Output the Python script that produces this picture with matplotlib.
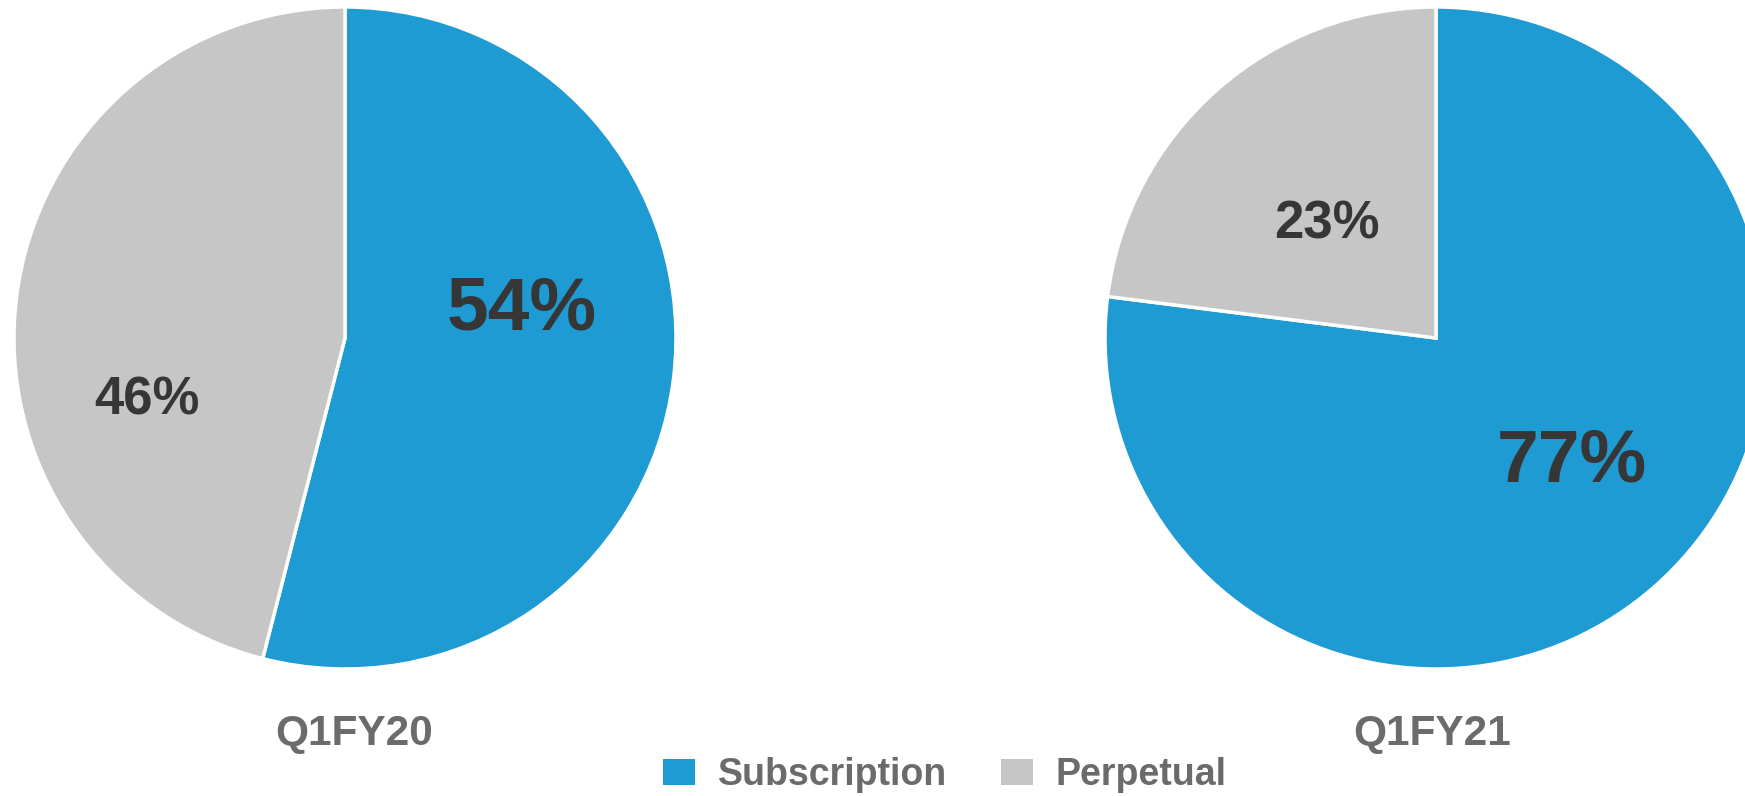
import matplotlib.pyplot as plt

# data
periods = ["Q1FY20", "Q1FY21"]
categories = ["Subscription", "Perpetual"]
shares = [[54, 46], [77, 23]]
colors = ["#1F9BD4", "#C6C6C6"]

# layout (image pixels, y measured from the top)
W, H = 1745, 796
centers = [(345, 338), (1436, 338)]
radius = 331
# label baseline offsets as fractions of the radius, and font sizes
label_pos = [[(0.535, 0.027), (-0.597, -0.230)],
             [(0.411, -0.435), (-0.329, 0.302)]]
label_size = [[54, 38], [54, 38]]
title_base = 745

plt.rcParams['font.family'] = ['Liberation Sans', 'DejaVu Sans']

fig = plt.figure(figsize=(W / 100, H / 100), dpi=100)
ax = fig.add_axes([0, 0, 1, 1])

wedges = None
for i, period in enumerate(periods):
    cx, cy = centers[i]
    w, _ = ax.pie(shares[i], colors=colors, startangle=90, counterclock=False,
                  center=(cx, H - cy), radius=radius,
                  wedgeprops=dict(edgecolor="white", linewidth=2.5))
    if wedges is None:
        wedges = w
    for j, v in enumerate(shares[i]):
        fx, fy = label_pos[i][j]
        ax.text(cx + fx * radius, H - cy + fy * radius, f"{v}%",
                ha="center", va="baseline", fontsize=label_size[i][j],
                fontweight="bold", color="#363636")
    ax.text(cx + (9 if i == 0 else -4), H - title_base, period, ha="center",
            va="baseline", fontsize=30.5, fontweight="bold", color="#6B6B6B")

ax.set_xlim(0, W)
ax.set_ylim(0, H)
ax.set_aspect("equal")
ax.axis("off")

leg = fig.legend(wedges, categories, loc="center", ncol=2,
                 bbox_to_anchor=(945 / W, 21 / H), frameon=False,
                 handlelength=0.85, handleheight=0.67, handletextpad=0.6,
                 columnspacing=1.45, borderpad=0,
                 prop=dict(size=27, weight="bold"))
for t in leg.get_texts():
    t.set_color("#6B6B6B")
for p in leg.get_patches():
    p.set_linewidth(0)

fig.savefig("out.png", dpi=100)
